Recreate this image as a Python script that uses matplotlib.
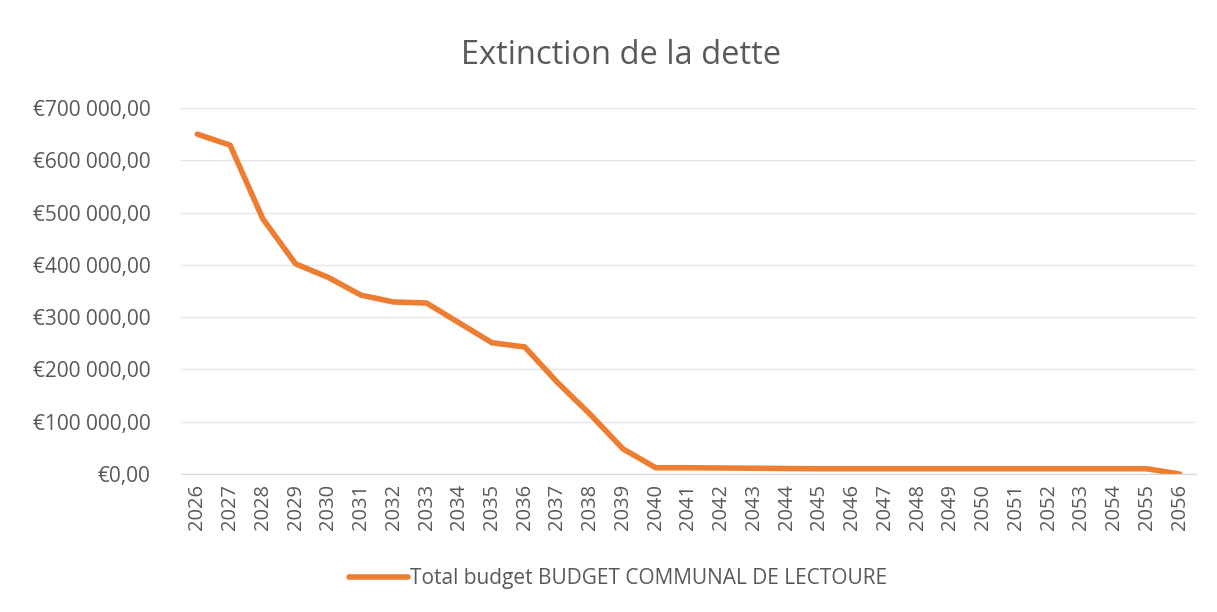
import matplotlib
matplotlib.use("Agg")
import matplotlib.pyplot as plt
from matplotlib.ticker import FuncFormatter

# data
years = list(range(2026, 2057))
dette = [650000, 629000, 488000, 402000, 376000, 342000, 329000, 327000,
         289000, 251000, 243000, 175000, 114000, 48000, 12000, 12000,
         11500, 11000, 10500, 10000, 10000, 10000, 10000, 10000, 10000,
         10000, 10000, 10000, 10000, 10000, 0]
serie = "Total budget BUDGET COMMUNAL DE LECTOURE"
titre = "Extinction de la dette"

plt.rcParams['font.family'] = ['Open Sans', 'DejaVu Sans']
gris = '#595959'

fig = plt.figure(figsize=(12.17, 6.12), dpi=100)
ax = fig.add_axes([0.1487, 0.2255, 0.834, 0.598])

x = range(len(years))
ax.plot(x, dette, color='#ED7D31', lw=4, solid_capstyle='round',
        solid_joinstyle='round', label=serie)

ax.set_xlim(-0.5, len(years) - 0.5)
ax.set_ylim(0, 700000)
ax.set_yticks(range(0, 700001, 100000))
ax.yaxis.set_major_formatter(FuncFormatter(
    lambda v, p: "€0,00" if v == 0 else "€{:,.0f}".format(v).replace(",", " ") + ",00"))
ax.set_xticks(list(x))
ax.set_xticklabels([str(y) for y in years], rotation=90)

ax.grid(axis='y', color='#e6e6e6', lw=1)
ax.set_axisbelow(True)
for s in ['left', 'right', 'top']:
    ax.spines[s].set_visible(False)
ax.spines['bottom'].set_color('#d9d9d9')
ax.tick_params(axis='y', length=0, colors=gris, labelsize=15, pad=22)
ax.tick_params(axis='x', length=0, colors=gris, labelsize=14.5, pad=7)

fig.text(0.51, 0.91, titre, ha='center', va='center', fontsize=23.5, color=gris)
fig.legend(loc='center', bbox_to_anchor=(0.508, 0.055), frameon=False,
           fontsize=15, labelcolor=gris, handlelength=2.8, handletextpad=0.1)

fig.savefig('out.png', dpi=100, facecolor='white')
